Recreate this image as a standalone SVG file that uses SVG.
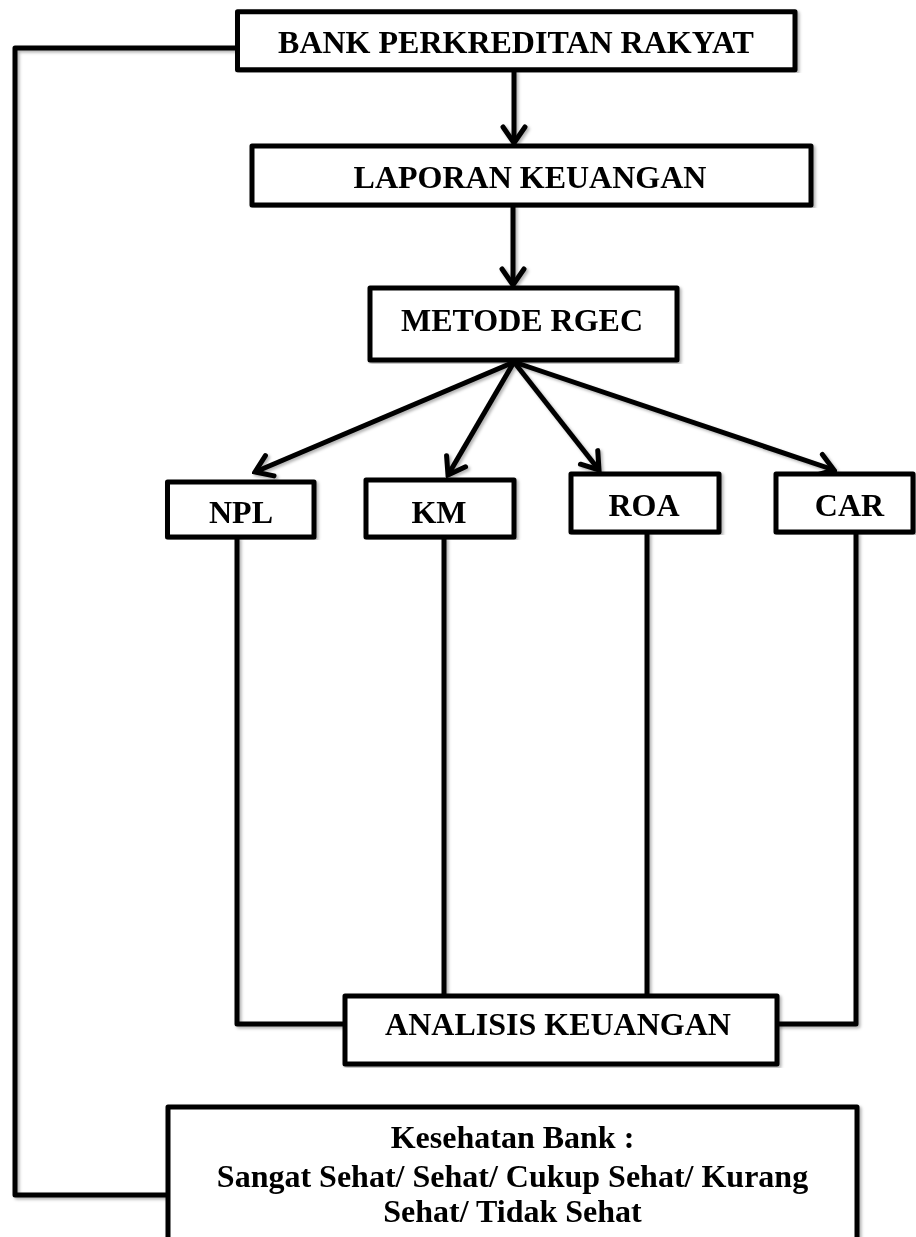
<svg xmlns="http://www.w3.org/2000/svg" width="916" height="1237" viewBox="0 0 916 1237">
<style>
.box{fill:#fff;stroke:#000;stroke-width:5;stroke-linejoin:round}
.ln{fill:none;stroke:#000;stroke-width:5;stroke-linejoin:round}
.t{font-family:"Liberation Serif","Times New Roman",serif;font-weight:bold;font-size:32px;fill:#000;text-anchor:middle}
</style>
<defs>
<filter id="sh" x="-5%" y="-5%" width="110%" height="110%">
<feDropShadow dx="2" dy="2" stdDeviation="1.5" flood-color="#000" flood-opacity="0.3"/>
</filter>
<marker id="ah" viewBox="-20 -14 23 28" markerWidth="23" markerHeight="28" refX="0" refY="0" orient="auto" markerUnits="userSpaceOnUse">
<path d="M-16,-11 L0,0 L-16,11" fill="none" stroke="#000" stroke-width="5" stroke-linejoin="miter" stroke-linecap="round"/>
</marker>
</defs>
<g id="connectors" filter="url(#sh)">
<path class="ln" d="M237.5,48 H15 V1195 H168"/>
<line class="ln" x1="514" y1="70" x2="514" y2="143" marker-end="url(#ah)"/>
<line class="ln" x1="513" y1="205" x2="513" y2="285" marker-end="url(#ah)"/>
<line class="ln" x1="514" y1="362" x2="255" y2="472" marker-end="url(#ah)"/>
<line class="ln" x1="514" y1="362" x2="448" y2="475" marker-end="url(#ah)"/>
<line class="ln" x1="514" y1="362" x2="599" y2="470" marker-end="url(#ah)"/>
<line class="ln" x1="514" y1="362" x2="834" y2="470" marker-end="url(#ah)"/>
<path class="ln" d="M237,537 V1024 H345"/>
<path class="ln" d="M444,537 V996"/>
<path class="ln" d="M647,532 V996"/>
<path class="ln" d="M856,532 V1024 H777"/>
</g>
<g id="n-bpr" filter="url(#sh)">
<rect class="box" x="237.5" y="11.7" width="557.5" height="58"/>
<text class="t" x="516" y="53">BANK PERKREDITAN RAKYAT</text>
</g>
<g id="n-laporan" filter="url(#sh)">
<rect class="box" x="252" y="146" width="559" height="59"/>
<text class="t" x="530" y="188">LAPORAN KEUANGAN</text>
</g>
<g id="n-metode" filter="url(#sh)">
<rect class="box" x="370" y="288" width="307" height="72"/>
<text class="t" x="522" y="331">METODE RGEC</text>
</g>
<g id="n-npl" filter="url(#sh)">
<rect class="box" x="167.5" y="482" width="146.5" height="55"/>
<text class="t" x="241" y="523">NPL</text>
</g>
<g id="n-km" filter="url(#sh)">
<rect class="box" x="366" y="480" width="148" height="57"/>
<text class="t" x="439" y="523">KM</text>
</g>
<g id="n-roa" filter="url(#sh)">
<rect class="box" x="571" y="474" width="148" height="58"/>
<text class="t" x="644" y="516">ROA</text>
</g>
<g id="n-car" filter="url(#sh)">
<rect class="box" x="776" y="474" width="137" height="58"/>
<text class="t" x="849.5" y="516">CAR</text>
</g>
<g id="n-analisis" filter="url(#sh)">
<rect class="box" x="345" y="996" width="432" height="68"/>
<text class="t" x="558" y="1035">ANALISIS KEUANGAN</text>
</g>
<g id="n-kesehatan" filter="url(#sh)">
<rect class="box" x="168" y="1107" width="689" height="160"/>
<text class="t" x="512.5" y="1148">Kesehatan Bank :</text>
<text class="t" x="512.5" y="1187">Sangat Sehat/ Sehat/ Cukup Sehat/ Kurang</text>
<text class="t" x="512.5" y="1222">Sehat/ Tidak Sehat</text>
</g>
</svg>
